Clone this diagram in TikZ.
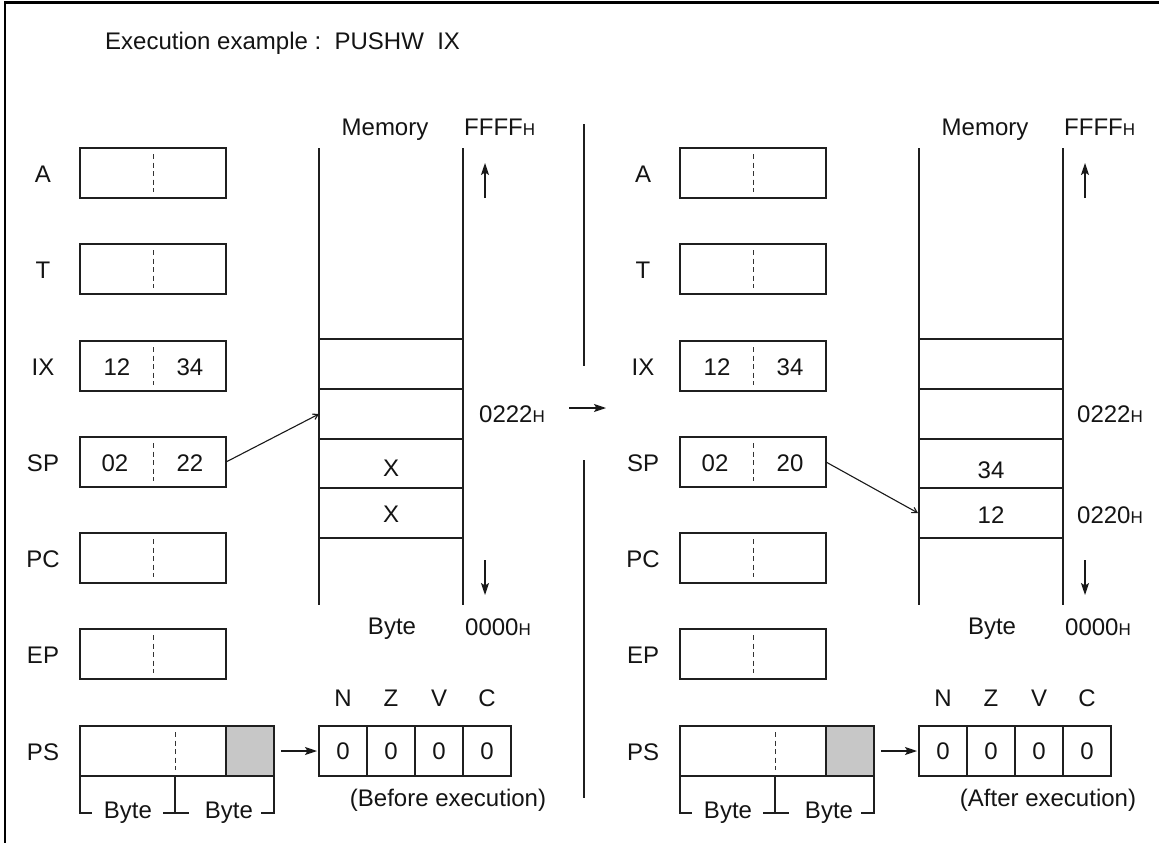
\documentclass[tikz,border=0pt]{standalone}
\usepackage{fontspec}
\setmainfont{Liberation Sans}
\usetikzlibrary{arrows.meta}
\newcommand{\subH}{{\fontsize{17}{19}\selectfont H}}
\begin{document}
\begin{tikzpicture}[x=1pt,y=-1pt,
  ln/.style={line width=1.2pt, draw=black!88},
  reg/.style={draw=black!88, line width=1.2pt, minimum width=146pt, minimum height=50pt, inner sep=0pt, outer sep=0pt},
  cell/.style={reg, minimum width=48pt},
  dsh/.style={line width=1pt, draw=black!80, dash pattern=on 5pt off 3.5pt},
  txt/.style={font=\fontsize{24}{27}\selectfont, inner sep=0pt, anchor=base, text=black!92},
  txtw/.style={txt, anchor=base west},
  arr/.style={line width=1.2pt, draw=black!90, -{Stealth[length=12pt,width=8pt,inset=2.5pt]}},
  ptr/.style={line width=1.1pt, draw=black!90, -{Straight Barb[length=5pt,width=6pt]}},
  frame/.style={line width=2.5pt, draw=black}
]
\useasboundingbox (0,0) rectangle (1159,843);
\fill[white] (0,0) rectangle (1159,843);
% frame (top and left)
\draw[frame] (5,843) -- (5,2.5) -- (1159,2.5);

\newcommand{\common}[2]{%
  \foreach \nm/\yy in {A/173,T/269,IX/366,SP/462,PC/558,EP/654}{%
    \node[reg] (#1\nm) at (153,\yy) {};
    \node[txt] (#1l\nm) at (43,\yy+9.5) {\nm};
    \draw[dsh] ([yshift=-6pt]#1\nm.north) -- ([yshift=6pt]#1\nm.south);
  }
  % PS register
  \node[reg, minimum width=194pt] (#1PS) at (177,751) {};
  \node[cell, fill=black!22] (#1PSg) at (250,751) {};
  \draw[dsh] (175,732) -- (175,770);
  \node[txt] (#1lPS) at (43,760.5) {PS};
  % byte brackets
  \draw[ln] (80,776) -- (80,813) -- (92,813);
  \draw[ln] (175,776) -- (175,813);
  \draw[ln] (163,813) -- (189,813);
  \draw[ln] (261,813) -- (274,813) -- (274,776);
  \node[txt] (#1b1) at (128,818) {Byte};
  \node[txt] (#1b2) at (229,818) {Byte};
  % memory column
  \draw[ln] (319,148) -- (319,605);
  \draw[ln] (463,148) -- (463,605);
  \foreach \hy in {339,389,439,488,538}{\draw[ln] (319,\hy) -- (463,\hy);}
  \node[txt] (#1mem) at (385,135) {Memory};
  \node[txtw] (#1ffff) at (464,135) {FFFF\subH};
  \coordinate (#1ua) at (485,198); \coordinate (#1ub) at (485,163);
  \coordinate (#1da) at (485,560); \coordinate (#1db) at (485,595);
  \draw[arr] (#1ua) -- (#1ub);
  \draw[arr] (#1da) -- (#1db);
  \node[txt] (#1byte) at (392,634) {Byte};
  \node[txtw] (#1zero) at (465,635) {0000\subH};
  % flags
  \foreach \i/\v in {0/N,1/Z,2/V,3/C}{%
    \node[cell] (#1F\i) at (343+48*\i,751) {};
    \node[txt] at (343+48*\i,759) {0};
    \node[txt] at (343+48*\i,706) {\v};
  }
  \draw[arr, shorten <=7pt, shorten >=2pt] (#1PSg.east) -- (#1F0.west);
  \node[txt] (#1cap) at (448,806) {#2};
}

\node[txtw] (title) at (105,49) {Execution example :\ \ PUSHW\ \ IX};

% ---------------- left panel (before)
\common{L}{(Before execution)}
\node[txt] at (117,375) {12};
\node[txt] at (190,375) {34};
\node[txt] at (115,471) {02};
\node[txt] at (190,471) {22};
\node[txt] at (391,476) {X};
\node[txt] at (391,522) {X};
\node[txtw] at (479,422) {0222\subH};
\coordinate (Lptr) at (319,414);
\draw[ptr] (LSP.east) -- (Lptr);

% ---------------- divider and transition arrow
\draw[ln] (584,124) -- (584,366);
\draw[ln] (584,460) -- (584,798);
\coordinate (ca1) at (569,408);
\coordinate (ca2) at (606,408);
\draw[arr] (ca1) -- (ca2);

% ---------------- right panel (after)
\begin{scope}[xshift=600pt]
\common{R}{(After execution)}
\node[txt] at (117,375) {12};
\node[txt] at (190,375) {34};
\node[txt] at (115,471) {02};
\node[txt] at (190,471) {20};
\node[txt] at (391,478) {34};
\node[txt] at (391,523) {12};
\node[txtw] at (477,422) {0222\subH};
\node[txtw] at (477,523) {0220\subH};
\coordinate (Rptr) at (318,513);
\draw[ptr] (RSP.east) -- (Rptr);
\end{scope}
\end{tikzpicture}
\end{document}
